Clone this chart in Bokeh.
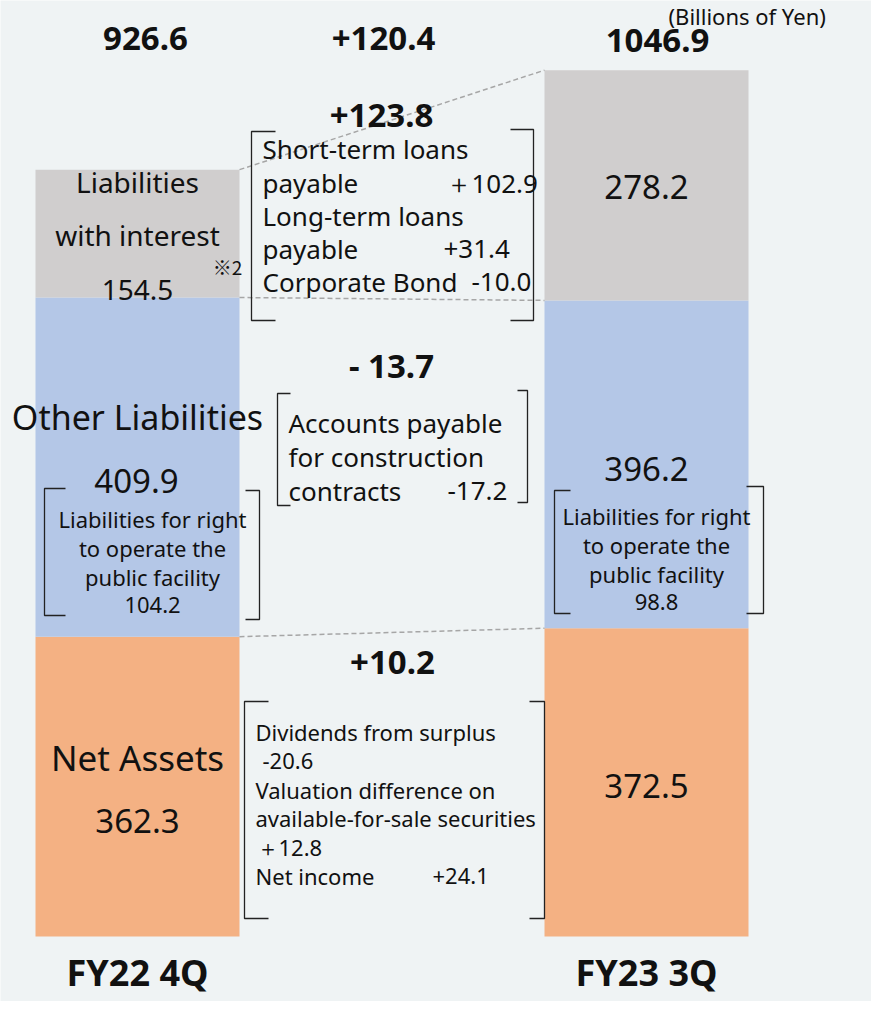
from bokeh.plotting import figure
from bokeh.models import Range1d, ColumnDataSource
from bokeh.core.properties import value
from bokeh.embed import file_html
from bokeh.resources import INLINE

# ---------------- data ----------------
categories = ["FY22 4Q", "FY23 3Q"]
net_assets = [362.3, 372.5]
other_liabilities = [409.9, 396.2]
liabilities_with_interest = [154.5, 278.2]
totals = [926.6, 1046.9]
right_to_operate = [104.2, 98.8]
change_total = "+120.4"
change_interest = "+123.8"
change_other = "- 13.7"
change_net = "+10.2"
interest_detail = [("Short-term loans", ""), ("payable", "＋102.9"), ("Long-term loans", ""),
                   ("payable", "+31.4"), ("Corporate Bond", "-10.0")]
other_detail = [("Accounts payable", ""), ("for construction", ""), ("contracts", "-17.2")]
net_detail = [("Dividends from surplus", ""), ("-20.6", ""), ("Valuation difference on", ""),
              ("available-for-sale securities", ""), ("＋12.8", ""), ("Net income", "+24.1")]
unit_label = "(Billions of Yen)"

# ---------------- layout helpers ----------------
BG = "#eff3f4"
C_NET, C_OTH, C_INT = "#f4b183", "#b4c7e7", "#d0cece"
S = 0.8275          # px per unit
Y0 = 936            # pixel of value 0
W, H = 871, 1001


def Y(py):
    return (Y0 - py) / S


FONT = value("Noto Sans")
xc = [137, 646]
bw = 204

p = figure(width=W, height=H, x_range=Range1d(0, W), y_range=Range1d(Y(H), Y(0)),
           output_backend="svg", toolbar_location=None, min_border=0)
p.axis.visible = False
p.grid.visible = False
p.outline_line_color = None
p.background_fill_color = BG
p.border_fill_color = BG

src = ColumnDataSource(dict(x=xc, net=net_assets, oth=other_liabilities, inte=liabilities_with_interest))
p.vbar_stack(["net", "oth", "inte"], x="x", width=bw, source=src,
             color=[C_NET, C_OTH, C_INT], line_color=None)

# dashed connectors between the stacks
lvl1 = net_assets
lvl2 = [a + b for a, b in zip(net_assets, other_liabilities)]
lvl3 = [a + b + c for a, b, c in zip(net_assets, other_liabilities, liabilities_with_interest)]
xl, xr = xc[0] + bw / 2, xc[1] - bw / 2
for lv in (lvl1, lvl2, lvl3):
    p.line([xl, xr], [lv[0], lv[1]], line_color="#a6a6a6", line_width=1.5, line_dash="5 3")


def txt(x, py, s, size, bold=False, align="center", color="#111111", font=FONT):
    p.text(x=[x], y=[Y(py)], text=[s], text_font=font, text_font_size=f"{size}px",
           text_font_style="bold" if bold else "normal", text_align=align,
           text_baseline="middle", text_color=color)


def bracket(xv, ytop, ybot, xs):
    p.line([xs, xv, xv, xs], [Y(ytop), Y(ytop), Y(ybot), Y(ybot)],
           line_color="#222222", line_width=1.3)


# top totals
txt(145, 38, f"{totals[0]:.1f}", 33, bold=True)
txt(383, 38, change_total, 33, bold=True)
txt(657, 40, f"{totals[1]:.1f}", 33, bold=True)
txt(668, 15, unit_label, 22, align="left")

# left bar labels
txt(137, 181, "Liabilities", 28)
txt(137, 234, "with interest", 28)
txt(137, 289, f"{liabilities_with_interest[0]:.1f}", 28)
txt(227, 266, "※2", 19, font=value("Noto Sans CJK JP"))
txt(137, 416, "Other Liabilities", 34)
txt(136, 480, f"{other_liabilities[0]:.1f}", 33)
txt(137, 757, "Net Assets", 35)
txt(137, 820, f"{net_assets[0]:.1f}", 33)

# right bar labels
txt(646, 186, f"{liabilities_with_interest[1]:.1f}", 33)
txt(646, 468, f"{other_liabilities[1]:.1f}", 33)
txt(646, 785, f"{net_assets[1]:.1f}", 33)

# change labels
txt(381, 115, change_interest, 33, bold=True)
txt(391, 365, change_other, 33, bold=True)
txt(392, 662, change_net, 33, bold=True)

# interest detail bracket
bracket(251, 131, 320, 275)
bracket(533, 129, 320, 510)
ys = [148, 182, 215, 248, 281]
xs2 = [None, 445, None, 443, 471]
for (a, b), py, x2 in zip(interest_detail, ys, xs2):
    txt(262, py, a, 26, align="left")
    if b:
        txt(x2, py, b, 26, align="left")

# other detail bracket
bracket(277, 393, 505, 290)
bracket(527, 390, 502, 517)
for (a, b), py in zip(other_detail, [422, 456, 490]):
    txt(288, py, a, 26, align="left")
    if b:
        txt(447, py, b, 26, align="left")

# right-to-operate brackets
bracket(44, 488, 615, 65)
bracket(259, 490, 619, 245)
bracket(554, 490, 613, 570)
bracket(763, 486, 613, 746)
lines_rto = ["Liabilities for right", "to operate the", "public facility"]
for i, py in enumerate([518, 547, 576]):
    txt(152, py, lines_rto[i], 22)
    txt(656, py - 3, lines_rto[i], 22)
txt(152, 604, f"{right_to_operate[0]:.1f}", 22)
txt(656, 601, f"{right_to_operate[1]:.1f}", 22)

# net assets detail bracket
bracket(244, 701, 918, 268)
bracket(544, 701, 918, 529)
net_x = [255, 262, 255, 255, 256, 255]
for (a, b), py, x0 in zip(net_detail, [731, 760, 789, 817, 846, 875], net_x):
    txt(x0, py, a, 22, align="left")
    if b:
        txt(432, py, b, 22, align="left")

# category labels
txt(137, 972, categories[0], 36, bold=True)
txt(646, 972, categories[1], 36, bold=True)

open("out.html", "w").write(file_html(p, INLINE))
